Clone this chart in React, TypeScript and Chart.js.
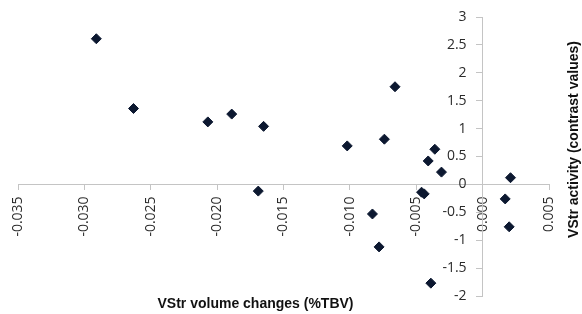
import React, { useEffect, useRef } from "react";
import { Chart, registerables } from "chart.js";

Chart.register(...registerables);

// Data
const volumeChanges: number[] = [
  -0.0291, -0.0263, -0.0207, -0.0189, -0.0165, -0.0169, -0.0102, -0.0074, -0.0066,
  -0.0036, -0.0041, -0.0031, -0.0046, -0.0044, -0.0083, -0.0078, -0.0039, 0.0021,
  0.0017, 0.002,
];
const activity: number[] = [
  2.61, 1.36, 1.12, 1.26, 1.04, -0.12, 0.69, 0.81, 1.75, 0.63, 0.42, 0.22, -0.14,
  -0.17, -0.53, -1.12, -1.77, 0.12, -0.26, -0.76,
];
const xTitle = "VStr volume changes (%TBV)";
const yTitle = "VStr activity (contrast values)";
const xMin = -0.035;
const xMax = 0.005;
const xStep = 0.005;
const yMin = -2;
const yMax = 3;
const yStep = 0.5;

const tickFontCss = "14px 'Open Sans', sans-serif";

const titlesPlugin = {
  id: "customTitles",
  afterDraw(chart: any) {
    const { ctx, chartArea } = chart;
    const xs = chart.scales.x;
    const ys = chart.scales.y;
    ctx.save();
    // y tick labels, left of the y axis line (which crosses at x = 0)
    ctx.fillStyle = "#2b2b2b";
    ctx.font = tickFontCss;
    ctx.textAlign = "right";
    ctx.textBaseline = "middle";
    const axisX = xs.getPixelForValue(0);
    ys.ticks.forEach((t: any) => {
      const label = String(Math.round(t.value * 10) / 10);
      ctx.fillText(label, axisX - 16, ys.getPixelForValue(t.value));
    });
    // axis titles
    ctx.fillStyle = "#111111";
    ctx.font = "bold 14px 'Liberation Sans', Arial, sans-serif";
    ctx.textAlign = "center";
    ctx.fillText(xTitle, (chartArea.left + chartArea.right) / 2 - 28, chartArea.bottom + 8);
    ctx.translate(chart.width - 8, (chartArea.top + chartArea.bottom) / 2 - 17);
    ctx.rotate(-Math.PI / 2);
    ctx.fillText(yTitle, 0, 0);
    ctx.restore();
  },
};

export default function App() {
  const ref = useRef<HTMLCanvasElement | null>(null);
  useEffect(() => {
    if (!ref.current) return;
    const points = volumeChanges.map((x, i) => ({ x, y: activity[i] }));
    const tickFont = { family: "'Open Sans', sans-serif", size: 14 };
    const chart = new Chart(ref.current, {
      type: "scatter",
      data: {
        datasets: [
          {
            data: points,
            pointStyle: "rectRot",
            pointRadius: 5,
            pointBorderWidth: 1,
            backgroundColor: "#0c1830",
            borderColor: "#0c1830",
          },
        ],
      },
      plugins: [titlesPlugin],
      options: {
        animation: false,
        responsive: false,
        maintainAspectRatio: false,
        layout: { padding: { left: 18, right: 33, top: 17, bottom: 18 } },
        plugins: { legend: { display: false }, tooltip: { enabled: false } },
        scales: {
          x: {
            type: "linear",
            position: { y: 0 } as any,
            min: xMin,
            max: xMax,
            ticks: {
              stepSize: xStep,
              minRotation: 90,
              maxRotation: 90,
              padding: 7,
              color: "#2b2b2b",
              font: tickFont,
              callback: (v: any) => Number(v).toFixed(3),
            },
            grid: { drawOnChartArea: false, drawTicks: true, tickLength: 5, color: "#c4c4c4" },
            border: { display: true, color: "#c4c4c4", width: 1 },
          },
          y: {
            type: "linear",
            position: { x: 0 } as any,
            min: yMin,
            max: yMax,
            ticks: {
              stepSize: yStep,
              display: false,
            },
            grid: { drawOnChartArea: false, drawTicks: true, tickLength: 6, color: "#c4c4c4" },
            border: { display: true, color: "#c4c4c4", width: 1 },
          },
        },
      },
    });
    return () => chart.destroy();
  }, []);
  return (
    <div style={{ position: "fixed", left: 0, top: 0, width: 582, height: 314, background: "#fff" }}>
      <canvas ref={ref} width={582} height={314} style={{ display: "block" }} />
    </div>
  );
}
